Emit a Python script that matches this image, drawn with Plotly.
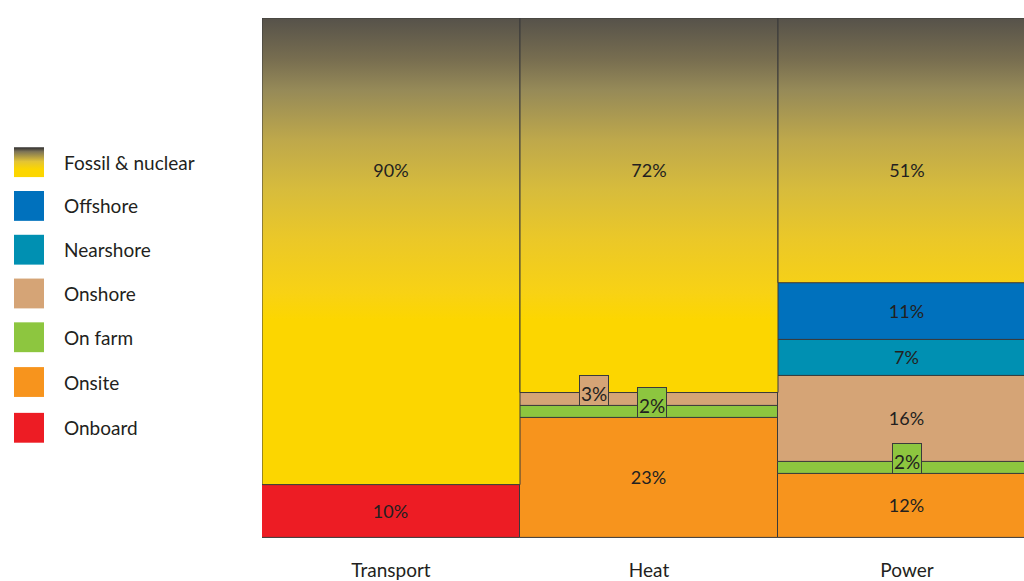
import plotly.graph_objects as go

# ---------------- data ----------------
columns = ["Transport", "Heat", "Power"]
series = ["Onboard", "Onsite", "On farm", "Onshore", "Nearshore", "Offshore"]
onboard = [10.3, None, None]
onsite = [None, 23.1, 12.3]
on_farm = [None, 2.3, 2.4]
onshore = [None, 2.6, 16.4]
nearshore = [None, None, 7.1]
offshore = [None, None, 10.9]
fossil = [89.7, 72.0, 50.9]

legend_names = ["Fossil & nuclear", "Offshore", "Nearshore", "Onshore", "On farm", "Onsite", "Onboard"]

colors = {
    "Onboard": "#ed1c24",
    "Onsite": "#f7941d",
    "On farm": "#8dc63f",
    "Onshore": "#d5a476",
    "Nearshore": "#0090b2",
    "Offshore": "#0071bd",
}
values = {
    "Onboard": onboard,
    "Onsite": onsite,
    "On farm": on_farm,
    "Onshore": onshore,
    "Nearshore": nearshore,
    "Offshore": offshore,
}
# horizontal offset (in column widths) of the boxed labels used for thin segments
small_label_dx = {("Onshore", 1): -0.213, ("On farm", 1): 0.01, ("On farm", 2): 0.0}

FONT = "Lato"
TXT = "#231f20"
EDGE = "#3a3a3a"
gradient_scale = [
    [0.0, "#fcd600"], [0.088, "#f8d214"], [0.265, "#ebc828"], [0.43, "#d7bc3c"],
    [0.596, "#bea84b"], [0.761, "#968a58"], [0.861, "#786e50"], [1.0, "#56524a"],
]

fig = go.Figure()
annotations = []
base = [0.0, 0.0, 0.0]
for name in series:
    vals = values[name]
    xs, ys, bs, texts = [], [], [], []
    for i, v in enumerate(vals):
        if v is None:
            continue
        xs.append(i)
        ys.append(v)
        bs.append(base[i])
        if v >= 5:
            texts.append(f"{round(v)}%")
        else:
            texts.append("")
            annotations.append(dict(
                x=i + small_label_dx.get((name, i), 0.0), y=base[i], xref="x", yref="y",
                text=f"{round(v)}%", showarrow=False, xanchor="center", yanchor="bottom",
                width=28, height=29, valign="bottom", borderpad=0, borderwidth=1,
                bordercolor=EDGE, bgcolor=colors[name],
                font=dict(family=FONT, size=19, color=TXT),
            ))
        base[i] += v
    fig.add_trace(go.Bar(
        x=xs, y=ys, base=bs, width=1, name=name, text=texts,
        textposition="inside", insidetextanchor="middle", textangle=0,
        constraintext="none",
        textfont=dict(family=FONT, size=18, color=TXT),
        marker=dict(color=colors[name], line=dict(color=EDGE, width=1)),
        showlegend=False, hoverinfo="skip",
    ))

# fossil & nuclear segments with vertical gradient
for i, v in enumerate(fossil):
    b = base[i]
    fig.add_trace(go.Scatter(
        x=[i - 0.5, i + 0.5, i + 0.5, i - 0.5, i - 0.5],
        y=[b, b, b + v, b + v, b],
        mode="lines", fill="toself",
        fillgradient=dict(type="vertical", colorscale=gradient_scale, start=42.3, stop=100),
        line=dict(color=EDGE, width=1), showlegend=False, hoverinfo="skip",
    ))
fig.add_trace(go.Scatter(
    x=[0, 1, 2], y=[70.3] * 3, mode="text", text=[f"{round(v)}%" for v in fossil],
    textfont=dict(family=FONT, size=18, color=TXT), showlegend=False, hoverinfo="skip",
))

# ---------------- custom legend ----------------
W, H = 1024, 581
leg_cy = [163, 207, 251, 295, 339, 384, 430]
for name, cy in zip(legend_names, leg_cy):
    if name == "Fossil & nuclear":
        fig.add_trace(go.Scatter(
            x=[14, 44, 44, 14, 14], y=[cy - 15, cy - 15, cy + 15, cy + 15, cy - 15],
            xaxis="x2", yaxis="y2", mode="lines", fill="toself",
            fillgradient=dict(type="vertical", start=cy - 15, stop=cy + 15,
                              colorscale=[[0, "#3a3835"], [0.12, "#7d7456"], [0.45, "#e3c435"],
                                          [0.7, "#fcd600"], [1, "#fcd600"]]),
            line=dict(width=0), showlegend=False, hoverinfo="skip",
        ))
    else:
        fig.add_shape(type="rect", xref="paper", yref="paper",
                      x0=14 / W, x1=44 / W, y0=1 - (cy + 15) / H, y1=1 - (cy - 15) / H,
                      fillcolor=colors[name], line=dict(width=0))
    annotations.append(dict(
        x=62 / W, y=1 - cy / H, xref="paper", yref="paper", text=name, showarrow=False,
        xanchor="left", yanchor="middle", font=dict(family=FONT, size=19, color=TXT),
    ))

px_per_col = 258
fig.update_layout(
    width=W, height=H,
    margin=dict(l=0, r=0, t=0, b=0),
    paper_bgcolor="white", plot_bgcolor="rgba(0,0,0,0)",
    barmode="overlay", bargap=0,
    annotations=annotations,
    xaxis=dict(domain=[262 / W, 1], range=[-0.5, -0.5 + (W - 262) / px_per_col],
               tickvals=[0, 1, 2], ticktext=columns, showgrid=False, zeroline=False,
               showline=False, ticks="", ticklabelstandoff=19,
               tickfont=dict(family=FONT, size=19, color=TXT), fixedrange=True),
    yaxis=dict(domain=[40 / H, 1 - 18 / H], range=[0, 100], showgrid=False, zeroline=False,
               showticklabels=False, showline=False, fixedrange=True),
    xaxis2=dict(domain=[0, 1], range=[0, W], visible=False, anchor="y2", fixedrange=True),
    yaxis2=dict(domain=[0, 1], range=[H, 0], visible=False, anchor="x2", fixedrange=True),
    showlegend=False,
)

fig.write_html("out.html")
